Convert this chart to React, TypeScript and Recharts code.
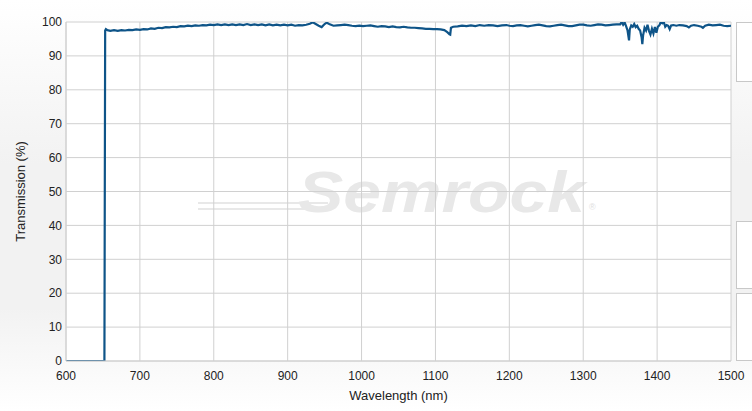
import { CartesianGrid, Line, LineChart, XAxis, YAxis } from 'recharts';

// wavelength (nm) and transmission (%)
const wavelengths = [
  600, 651, 652, 653, 654, 656, 660, 665, 670, 675, 680, 685, 690, 695, 700,
  705, 710, 715, 720, 725, 730, 735, 740, 745, 750, 755, 760, 765, 770, 775,
  780, 785, 790, 795, 800, 805, 810, 815, 820, 825, 830, 835, 840, 845, 850,
  855, 860, 865, 870, 875, 880, 885, 890, 895, 900, 905, 910, 915, 920, 925,
  930, 934, 938, 942, 946, 950, 953, 957, 962, 967, 972, 977, 982, 987, 992,
  997, 1002, 1007, 1012, 1017, 1022, 1027, 1032, 1037, 1042, 1047, 1052, 1057,
  1062, 1067, 1072, 1077, 1082, 1087, 1092, 1097, 1102, 1107, 1112, 1116, 1119,
  1120, 1121, 1124, 1130, 1136, 1142, 1148, 1154, 1160, 1166, 1172, 1178, 1184,
  1190, 1196, 1200, 1205, 1210, 1215, 1220, 1225, 1230, 1235, 1240, 1245, 1250,
  1255, 1260, 1265, 1270, 1275, 1280, 1285, 1290, 1295, 1300, 1305, 1310, 1315,
  1320, 1325, 1330, 1335, 1340, 1345, 1350, 1352, 1354, 1356, 1358, 1360, 1362,
  1363, 1365, 1367, 1369, 1371, 1373, 1375, 1377, 1379, 1380, 1381, 1383, 1385,
  1387, 1389, 1391, 1393, 1395, 1397, 1399, 1401, 1403, 1405, 1407, 1409, 1411,
  1413, 1415, 1417, 1419, 1422, 1426, 1430, 1435, 1440, 1443, 1446, 1450, 1455,
  1460, 1462, 1465, 1470, 1475, 1480, 1485, 1490, 1495, 1500,
];

const transmission = [
  0, 0, 0, 97.5, 97.9, 97.6, 97.4, 97.6, 97.4, 97.6, 97.5, 97.7, 97.6, 97.8, 97.7,
  97.9, 97.8, 98.1, 98.0, 98.3, 98.2, 98.5, 98.4, 98.6, 98.5, 98.8, 98.7, 98.9, 98.8, 99.0,
  98.9, 99.1, 99.0, 99.2, 99.1, 99.3, 99.1, 99.3, 99.1, 99.3, 99.1, 99.3, 99.1, 99.4, 99.1,
  99.3, 99.1, 99.3, 99.0, 99.3, 99.0, 99.2, 99.0, 99.2, 99.0, 99.2, 98.9, 99.1, 99.0, 99.2,
  99.5, 99.9, 99.4, 98.9, 98.5, 99.4, 99.8, 99.3, 98.9, 99.0, 99.1, 99.2, 99.1, 98.9, 98.8,
  98.9, 98.8, 98.9, 99.0, 98.8, 98.6, 98.8, 98.7, 98.5, 98.7, 98.5, 98.4, 98.6,
  98.4, 98.3, 98.3, 98.2, 98.1, 98.0, 98.0, 97.9, 97.9, 97.8, 97.6, 97.0, 96.4,
  96.3, 98.3, 98.6, 98.7, 98.9, 98.8, 99.0, 98.8, 99.1, 98.9, 99.1, 99.0, 98.8,
  99.0, 99.1, 98.9, 98.8, 99.0, 99.1, 98.9, 98.7, 98.9, 99.1, 99.2, 99.0, 98.8,
  98.7, 98.9, 99.1, 99.2, 99.0, 98.8, 98.8, 99.0, 99.2, 99.2, 99.0, 98.9, 99.1,
  99.3, 99.2, 99.0, 99.1, 99.2, 99.3, 99.3, 100, 99.2, 99.9, 98.8, 97.5, 94.6,
  97.8, 99.0, 98.6, 99.4, 98.5, 98.9, 98.0, 97.5, 95.5, 93.5, 96.0, 98.3, 97.5,
  99.2, 97.4, 96.3, 98.0, 96.6, 98.5, 96.8, 98.6, 99.0, 100, 99.6, 100, 98.6,
  99.1, 98.9, 97.9, 99.0, 99.1, 98.9, 99.1, 99.0, 98.8, 98.4, 98.9, 99.1, 98.9,
  98.6, 98.3, 98.9, 99.2, 99.0, 99.1, 99.2, 98.9, 98.8, 98.9,
];

const xTicks = [600, 700, 800, 900, 1000, 1100, 1200, 1300, 1400, 1500];
const yTicks = [0, 10, 20, 30, 40, 50, 60, 70, 80, 90, 100];

const data = wavelengths.map((wl, i) => ({ wl, t: transmission[i] }));

const FONT = '"Liberation Sans", Arial, sans-serif';
const TEXT = '#222';
const GRID = '#d0d0d0';

function Watermark() {
  return (
    <svg width={665} height={339} style={{ position: 'absolute', left: 0, top: 0 }}>
      <defs>
        <linearGradient id="rainbow" x1="0" x2="1" y1="0" y2="0">
          <stop offset="0%" stopColor="#ececec" />
          <stop offset="30%" stopColor="#e2e2f8" />
          <stop offset="50%" stopColor="#e4f6e8" />
          <stop offset="70%" stopColor="#f8f0dc" />
          <stop offset="100%" stopColor="#f8e2e2" />
        </linearGradient>
      </defs>
      <line x1={264} x2={494} y1={150} y2={150} stroke="url(#rainbow)" strokeWidth={3} />
      <line x1={132} x2={262} y1={181} y2={181} stroke="#e8e8e8" strokeWidth={2} />
      <line x1={132} x2={262} y1={187} y2={187} stroke="#e8e8e8" strokeWidth={2} />
      <text
        x={232}
        y={190}
        fontFamily={FONT}
        fontSize={58}
        fontStyle="italic"
        fontWeight="bold"
        fill="#e8e8e8"
        textLength={287}
        lengthAdjust="spacingAndGlyphs"
      >
        Semrock
      </text>
      <text x={523} y={188} fontFamily={FONT} fontSize={9} fill="#e0e0e0">
        ®
      </text>
    </svg>
  );
}

export default function App() {
  return (
    <div
      style={{
        position: 'relative',
        width: 752,
        height: 411,
        overflow: 'hidden',
        fontFamily: FONT,
        background: 'linear-gradient(to bottom, #ffffff 0%, #f2f2f2 40%, #f2f2f2 75%, #ffffff 100%)',
      }}
    >
      <style>{'body { margin: 0; }'}</style>

      {/* plot background + logo, drawn under the grid */}
      <div
        style={{ position: 'absolute', left: 66, top: 22, width: 665, height: 339, background: '#fff' }}
      >
        <Watermark />
      </div>

      {/* cut-off side panels */}
      {[
        [22, 60],
        [221, 68],
        [293, 68],
      ].map(([top, h]) => (
        <div
          key={top}
          style={{
            position: 'absolute',
            left: 736,
            top,
            width: 30,
            height: h,
            background: '#fff',
            border: '1px solid #c8c8c8',
            boxSizing: 'border-box',
          }}
        />
      ))}

      <div style={{ position: 'absolute', left: 0, top: 0 }}>
        <LineChart width={752} height={411} data={data} margin={{ top: 22, right: 21, bottom: 10, left: 0 }}>
          <CartesianGrid stroke={GRID} />
          <XAxis
            type="number"
            dataKey="wl"
            domain={[600, 1500]}
            ticks={xTicks}
            allowDataOverflow
            height={40}
            tickLine={false}
            tickSize={6}
            tickMargin={4}
            axisLine={{ stroke: GRID }}
            tick={{ fill: TEXT, fontSize: 12, fontFamily: FONT }}
            label={{
              value: 'Wavelength (nm)',
              position: 'insideBottom',
              offset: 1,
              style: { fill: TEXT, fontSize: 13, fontFamily: FONT },
            }}
          />
          <YAxis
            type="number"
            domain={[0, 100]}
            ticks={yTicks}
            allowDataOverflow
            width={66}
            tickLine={false}
            tickSize={2}
            tickMargin={2}
            axisLine={{ stroke: GRID }}
            tick={{ fill: TEXT, fontSize: 12, fontFamily: FONT }}
            label={{
              value: 'Transmission (%)',
              angle: -90,
              position: 'insideLeft',
              offset: 20,
              style: { fill: TEXT, fontSize: 13, fontFamily: FONT, textAnchor: 'middle' },
            }}
          />
          <Line
            type="linear"
            dataKey="t"
            stroke="#0e5488"
            strokeWidth={2.2}
            dot={false}
            activeDot={false}
            isAnimationActive={false}
          />
        </LineChart>
      </div>
    </div>
  );
}
